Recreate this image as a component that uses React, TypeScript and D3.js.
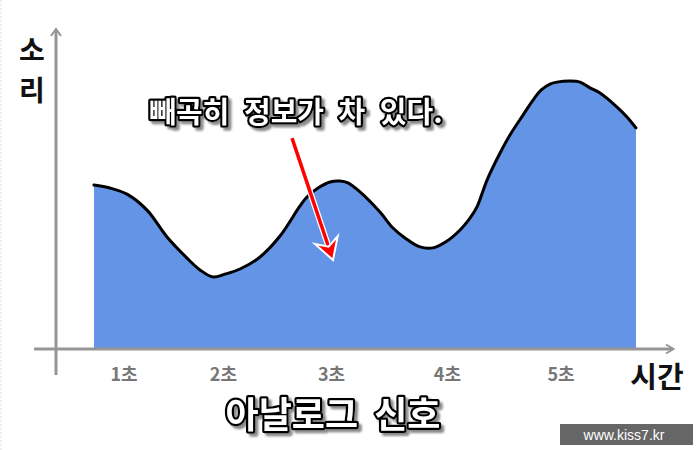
import React from "react";
import * as d3 from "d3";

// time (seconds) of each sampled point of the analog wave
const timeValues = [
  0.725, 0.872, 1.027, 1.211, 1.394, 1.577, 1.696, 1.815, 1.924, 2.062, 2.245,
  2.428, 2.611, 2.675, 2.776, 2.886, 2.977, 3.05, 3.16, 3.343, 3.462, 3.572,
  3.709, 3.828, 3.957, 4.076, 4.167, 4.231, 4.323, 4.442, 4.533, 4.652, 4.744,
  4.817, 4.899, 4.963, 5.082, 5.174, 5.265, 5.357, 5.513, 5.604, 5.686,
];
// loudness (소리) at each point
const soundValues = [
  51.25, 50.3, 48.4, 43.4, 35.0, 28.4, 24.7, 22.5, 23.4, 25.0, 28.75, 35.3,
  44.7, 47.5, 50.3, 52.2, 52.5, 51.9, 49.1, 42.8, 37.8, 34.7, 31.9, 31.6,
  33.75, 37.2, 40.9, 44.4, 52.8, 61.25, 66.9, 73.1, 77.8, 80.9, 82.8, 83.4,
  83.75, 83.4, 81.6, 80.0, 75.6, 72.5, 69.1,
];
const tickLabels = ["1초", "2초", "3초", "4초", "5초"];
const tickTimes = [1, 1.91, 2.9, 3.96, 5];
const xAxisTitle = "시간";
const yAxisTitle = ["소", "리"];
const chartTitle = "아날로그 신호";
const annotationText = "빼곡히 정보가 차 있다.";
const annotationFrom = [2.538, 65.9];
const annotationTo = [2.913, 27.8];
const watermark = "www.kiss7.kr";

const W = 700;
const H = 450;
const FONT = "'Noto Sans CJK KR', 'Noto Sans', sans-serif";

export default function App() {
  const x = d3.scaleLinear().domain([0, 6]).range([14.75, 670.25]);
  const y = d3.scaleLinear().domain([0, 100]).range([349, 29]);

  const data = timeValues.map((t, i) => ({ t, v: soundValues[i] }));
  const area = d3
    .area<{ t: number; v: number }>()
    .x((d) => x(d.t))
    .y0(y(0))
    .y1((d) => y(d.v))
    .curve(d3.curveCatmullRom.alpha(0.5));
  const line = d3
    .line<{ t: number; v: number }>()
    .x((d) => x(d.t))
    .y((d) => y(d.v))
    .curve(d3.curveCatmullRom.alpha(0.5));

  const axisColor = "#969696";
  const axisY = y(0);
  const axisX = 56;

  // annotation arrow
  const ax1 = x(annotationFrom[0]);
  const ay1 = y(annotationFrom[1]);
  const ax2 = x(annotationTo[0]);
  const ay2 = y(annotationTo[1]);
  const ang = Math.atan2(ay2 - ay1, ax2 - ax1);
  const rot = (px: number, py: number) => {
    const c = Math.cos(ang);
    const s = Math.sin(ang);
    return [ax2 + px * c - py * s, ay2 + px * s + py * c];
  };
  const headPts = [rot(0, 0), rot(-21, -12), rot(-14, 0), rot(-21, 12)];
  const headPath = "M" + headPts.map((p) => p.join(",")).join("L") + "Z";
  const shaft = rot(-14, 0);

  const fancyText = (
    txt: string,
    cx: number,
    by: number,
    size: number,
    wordSpacing: number
  ) => (
    <text
      x={cx}
      y={by}
      textAnchor="middle"
      fontFamily={FONT}
      fontWeight={700}
      fontSize={size}
      wordSpacing={wordSpacing}
      fill="#ffffff"
      stroke="#000000"
      strokeWidth={4.5}
      strokeLinejoin="round"
      style={{ paintOrder: "stroke" }}
      filter="url(#shadow)"
    >
      {txt}
    </text>
  );

  return (
    <svg
      width={W}
      height={H}
      viewBox={`0 0 ${W} ${H}`}
      style={{ position: "absolute", left: 0, top: 0, display: "block", background: "#fff" }}
    >
      <defs>
        <filter id="shadow" x="-10%" y="-40%" width="120%" height="180%">
          <feGaussianBlur in="SourceAlpha" stdDeviation="1.3" result="b" />
          <feOffset in="b" dx="3" dy="3" result="o" />
          <feFlood floodColor="#8a8a8a" result="f" />
          <feComposite in="f" in2="o" operator="in" result="s" />
          <feMerge>
            <feMergeNode in="s" />
            <feMergeNode in="SourceGraphic" />
          </feMerge>
        </filter>
      </defs>
      <rect x={0} y={0} width={W} height={H} fill="#ffffff" />
      <line x1={1} y1={0} x2={1} y2={H} stroke="#dddddd" strokeDasharray="2,2" />

      {/* wave area */}
      <path d={area(data) || ""} fill="#6394e6" />
      <path
        d={line(data) || ""}
        fill="none"
        stroke="#000"
        strokeWidth={3}
        strokeLinejoin="round"
        strokeLinecap="round"
      />

      {/* axes */}
      <line x1={34} y1={axisY} x2={673} y2={axisY} stroke={axisColor} strokeWidth={3} />
      <polyline
        points={`666,${axisY - 4.5} 673.5,${axisY} 666,${axisY + 4.5}`}
        fill="none"
        stroke={axisColor}
        strokeWidth={2}
      />
      <line x1={axisX} y1={375} x2={axisX} y2={30} stroke={axisColor} strokeWidth={3} />
      <polyline
        points={`${axisX - 5},36 ${axisX},29 ${axisX + 5},36`}
        fill="none"
        stroke={axisColor}
        strokeWidth={2}
      />

      {/* tick labels */}
      {tickTimes.map((t, i) => (
        <text
          key={i}
          x={x(t)}
          y={381}
          textAnchor="middle"
          fontFamily={FONT}
          fontWeight={700}
          fontSize={18}
          fill="#777777"
        >
          {tickLabels[i]}
        </text>
      ))}

      {/* axis titles */}
      <text
        x={657}
        y={388}
        textAnchor="middle"
        fontFamily={FONT}
        fontWeight={700}
        fontSize={29}
        fill="#111"
      >
        {xAxisTitle}
      </text>
      {yAxisTitle.map((c, i) => (
        <text
          key={i}
          x={32}
          y={61 + i * 40}
          textAnchor="middle"
          fontFamily={FONT}
          fontWeight={700}
          fontSize={28}
          fill="#111"
        >
          {c}
        </text>
      ))}

      {/* annotation arrow */}
      <line x1={ax1} y1={ay1} x2={shaft[0]} y2={shaft[1]} stroke="#fff" strokeWidth={6} />
      <line x1={ax1} y1={ay1} x2={shaft[0]} y2={shaft[1]} stroke="#ff0000" strokeWidth={3.5} />
      <path d={headPath} fill="#ff0000" stroke="#fff" strokeWidth={2} strokeLinejoin="miter" />

      {/* annotation and title */}
      {fancyText(annotationText, 296, 123, 29, 8)}
      {fancyText(chartTitle, 333, 428, 36, 8)}

      {/* watermark */}
      <rect x={560} y={424} width={133} height={21} fill="#666666" />
      <text
        x={624}
        y={440}
        textAnchor="middle"
        fontFamily="'Liberation Sans', Arial, sans-serif"
        fontSize={14}
        fill="#ffffff"
      >
        {watermark}
      </text>
    </svg>
  );
}
